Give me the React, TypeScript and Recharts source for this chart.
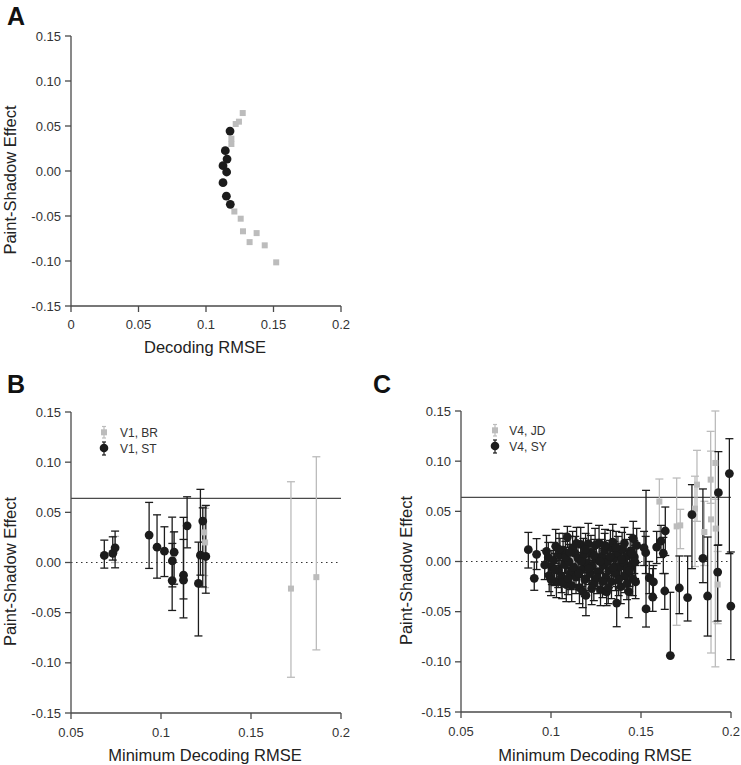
import React from 'react';
import { ScatterChart, Scatter, XAxis, YAxis, ErrorBar, ReferenceLine, Label, Legend } from 'recharts';

const FONT = '"Liberation Sans", Arial, Helvetica, sans-serif';
const BLACK = '#1c1c1c';
const GRAY = '#bcbcbc';
const AXIS = '#4a4a4a';

// ---------- tick values / labels ----------
const yTicks = [-0.15, -0.1, -0.05, 0, 0.05, 0.1, 0.15];
const yTickLabels = ['-0.15', '-0.10', '-0.05', '0.00', '0.05', '0.10', '0.15'];
const aXTicks = [0, 0.05, 0.1, 0.15, 0.2];
const aXTickLabels = ['0', '0.05', '0.1', '0.15', '0.2'];
const bcXTicks = [0.05, 0.1, 0.15, 0.2];
const bcXTickLabels = ['0.05', '0.1', '0.15', '0.2'];

// ---------- Panel A ----------
const aBlackX = [0.1178, 0.1143, 0.1156, 0.1126, 0.1153, 0.1126, 0.1151, 0.118];
const aBlackY = [0.0444, 0.0226, 0.0133, 0.0059, -0.0011, -0.013, -0.028, -0.037];
const aGrayX = [0.1272, 0.1244, 0.122, 0.1188, 0.1188, 0.121, 0.1257, 0.1274, 0.1375, 0.1323, 0.1435, 0.152];
const aGrayY = [0.0644, 0.0548, 0.0522, 0.036, 0.03, -0.045, -0.053, -0.067, -0.069, -0.079, -0.0826, -0.1015];

// ---------- Panel B ----------
const thresholdB = 0.064;
const bStX = [0.0685, 0.0732, 0.0745, 0.0934, 0.0978, 0.1019, 0.1062, 0.1063, 0.1073, 0.1125, 0.1125, 0.1145, 0.1208, 0.1219, 0.1232, 0.1249];
const bStY = [0.007, 0.009, 0.0146, 0.0273, 0.0153, 0.0113, -0.018, 0.0016, 0.0103, -0.0126, -0.0176, 0.0366, -0.0209, 0.0073, 0.0413, 0.006];
const bStLo = [-0.0056, 0.0024, -0.0053, -0.0059, -0.0156, -0.014, -0.0478, -0.0243, -0.0216, -0.0363, -0.0552, 0.0146, -0.0732, -0.0126, -0.0243, -0.0306];
const bStHi = [0.0223, 0.0256, 0.0313, 0.0599, 0.0475, 0.0356, 0.0452, 0.019, 0.0306, 0.045, 0.023, 0.0655, 0.0203, 0.0729, 0.0545, 0.0569];
const bBrX = [0.0745, 0.107, 0.124, 0.1245, 0.1722, 0.1863];
const bBrY = [0.012, 0.008, 0.03, 0.02, -0.026, -0.0146];
const bBrLo = [0.0, -0.022, -0.013, -0.025, -0.1144, -0.0871];
const bBrHi = [0.026, 0.03, 0.056, 0.054, 0.0805, 0.1054];

// ---------- Panel C ----------
const thresholdC = 0.064;
const cSyX = [
  0.0874, 0.092, 0.0907,
  0.0965, 0.0985, 0.099, 0.1005, 0.1015, 0.1026, 0.103, 0.104, 0.105, 0.1058, 0.1067, 0.1075, 0.1085, 0.1091,
  0.11, 0.111, 0.112, 0.1128, 0.1135, 0.1139, 0.115, 0.1158, 0.1165, 0.1172, 0.118, 0.1188, 0.1194, 0.12,
  0.1207, 0.1215, 0.1222, 0.123, 0.1238, 0.1245, 0.1252, 0.126, 0.1267, 0.1275, 0.1282, 0.129, 0.1298,
  0.1305, 0.1309, 0.1315, 0.1322, 0.133, 0.1336, 0.1343, 0.135, 0.1358, 0.1365, 0.1372, 0.138, 0.1388,
  0.1395, 0.1402, 0.141, 0.1418, 0.1425, 0.1432, 0.144, 0.1448, 0.1457, 0.1454, 0.1463, 0.1467, 0.147, 0.1476,
  0.0975, 0.1, 0.102, 0.1045, 0.1062, 0.108, 0.1095, 0.1105, 0.1115, 0.1142, 0.1155, 0.1168, 0.1176, 0.1192,
  0.121, 0.1226, 0.124, 0.1256, 0.1272, 0.1286, 0.13, 0.1318, 0.1328, 0.1346, 0.1362, 0.1376, 0.1392, 0.1408,
  0.1422, 0.1436, 0.145,
  0.1517, 0.1526, 0.1528, 0.1546, 0.1569, 0.1565, 0.1587, 0.1611, 0.1624, 0.1635, 0.1632, 0.1663,
  0.1713, 0.1759, 0.1783, 0.1844, 0.187, 0.193, 0.1926, 0.1991, 0.1999,
];
const cSyY = [
  0.0118, 0.0072, -0.0168,
  -0.0035, 0.004, -0.014, -0.006, 0.001, 0.0152, -0.02, -0.009, 0.006, -0.015, 0.0112, -0.003, -0.023, 0.0244,
  0.0, -0.011, 0.013, -0.006, 0.0079, -0.0155, 0.003, -0.026, 0.017, -0.008, 0.006, -0.018, -0.0337, -0.002,
  0.0178, -0.012, 0.009, -0.005, -0.022, 0.016, 0.002, -0.01, 0.0184, -0.028, 0.005, -0.004, 0.011,
  -0.016, -0.0304, 0.0, -0.009, 0.014, -0.02, 0.0194, 0.003, -0.012, -0.0414, 0.008, -0.005, -0.025,
  0.012, -0.001, -0.014, 0.005, -0.007, -0.03, 0.01, -0.003, 0.0228, -0.0171, 0.0045, -0.0005, -0.0204, 0.016,
  0.01, -0.018, -0.008, 0.012, -0.021, 0.004, -0.017, 0.009, -0.024, 0.018, -0.012, 0.0, -0.03, 0.012,
  -0.007, -0.027, 0.006, -0.016, 0.0, -0.02, 0.016, -0.026, 0.005, -0.006, 0.014, -0.018, 0.002, 0.018,
  -0.022, -0.009, 0.008,
  0.0135, 0.0088, -0.0473, -0.0164, -0.0204, -0.0354, 0.0144, 0.0204, 0.0082, 0.0304, -0.0294, -0.0938,
  -0.0264, -0.036, 0.0467, 0.0032, -0.0344, 0.0686, -0.0105, 0.0876, -0.0444,
];
const cSyLo = [
  -0.0065, -0.008, -0.0287,
  -0.018, -0.012, -0.03, -0.023, -0.017, -0.002, -0.036, -0.026, -0.011, -0.031, -0.006, -0.02, -0.04, 0.014,
  -0.017, -0.028, -0.004, -0.023, -0.009, -0.032, -0.014, -0.042, 0.0, -0.025, -0.011, -0.035, -0.054, -0.019,
  0.001, -0.029, -0.008, -0.022, -0.039, -0.001, -0.015, -0.027, 0.001, -0.044, -0.012, -0.021, -0.006,
  -0.033, -0.044, -0.017, -0.026, -0.003, -0.037, 0.002, -0.014, -0.029, -0.065, -0.009, -0.022, -0.042,
  -0.005, -0.018, -0.031, -0.012, -0.024, -0.056, -0.007, -0.02, 0.006, -0.034, -0.012, -0.017, -0.037, -0.001,
  -0.006, -0.034, -0.024, -0.004, -0.037, -0.012, -0.033, -0.007, -0.04, 0.002, -0.028, -0.016, -0.046, -0.004,
  -0.023, -0.043, -0.01, -0.032, -0.016, -0.036, 0.0, -0.042, -0.011, -0.022, -0.002, -0.034, -0.014, 0.002,
  -0.038, -0.025, -0.008,
  -0.004, -0.012, -0.0653, -0.032, -0.036, -0.0497, -0.002, 0.004, -0.012, 0.006, -0.0477, -0.0938,
  -0.052, -0.0593, -0.0071, -0.0211, -0.0743, 0.0165, -0.0593, 0.0078, -0.0978,
];
const cSyHi = [
  0.029, 0.0228, -0.0005,
  0.011, 0.019, 0.002, 0.011, 0.019, 0.032, -0.004, 0.008, 0.023, 0.001, 0.028, 0.014, -0.006, 0.035,
  0.017, 0.006, 0.03, 0.011, 0.025, 0.001, 0.02, -0.01, 0.034, 0.009, 0.023, -0.001, -0.017, 0.015,
  0.038, 0.005, 0.026, 0.012, -0.005, 0.033, 0.019, 0.007, 0.036, -0.011, 0.022, 0.013, 0.028,
  0.001, -0.015, 0.017, 0.008, 0.031, -0.003, 0.037, 0.02, 0.005, -0.025, 0.025, 0.012, -0.008,
  0.029, 0.016, 0.003, 0.022, 0.01, -0.013, 0.027, 0.014, 0.04, -0.001, 0.021, 0.016, -0.004, 0.033,
  0.026, -0.002, 0.008, 0.028, -0.005, 0.02, -0.001, 0.025, -0.008, 0.034, 0.004, 0.016, -0.014, 0.028,
  0.009, -0.011, 0.022, 0.0, 0.016, -0.004, 0.032, -0.01, 0.021, 0.01, 0.03, -0.002, 0.018, 0.034,
  -0.006, 0.007, 0.024,
  0.03, 0.025, 0.0709, 0.0, -0.004, -0.0071, 0.03, 0.036, 0.024, 0.0543, -0.012, -0.0307,
  0.0055, 0.0055, 0.0766, 0.0723, 0.0244, 0.1095, 0.0161, 0.1224, 0.0095,
];
const cJdX = [0.112, 0.125, 0.138, 0.1602, 0.1698, 0.1718, 0.18, 0.1811, 0.1852, 0.1887, 0.1889, 0.1913, 0.1915, 0.1926];
const cJdY = [0.002, -0.006, 0.004, 0.0597, 0.035, 0.036, 0.0527, 0.0766, 0.0294, 0.0816, 0.042, 0.0982, 0.0328, -0.023];
const cJdLo = [-0.014, -0.022, -0.012, 0.0171, -0.0636, 0.0128, -0.005, 0.04, -0.004, 0.058, -0.0912, -0.105, -0.06, -0.062];
const cJdHi = [0.018, 0.01, 0.02, 0.0822, 0.0832, 0.052, 0.085, 0.1108, 0.06, 0.1297, 0.11, 0.15, 0.062, 0.01];

// ---------- helpers ----------
type Row = { x: number; y: number; err?: [number, number] };
function makeRows(xs: number[], ys: number[], lo?: number[], hi?: number[]): Row[] {
  return xs.map((x, i) => ({
    x,
    y: ys[i],
    err: lo && hi ? [ys[i] - lo[i], hi[i] - ys[i]] : undefined,
  }));
}

const circleShape = (color: string, r: number) => (p: any) => (
  <circle cx={p.cx} cy={p.cy} r={r} fill={color} />
);
const squareShape = (color: string, s: number) => (p: any) => (
  <rect x={p.cx - s / 2} y={p.cy - s / 2} width={s} height={s} fill={color} />
);

const yTitle = (text: string, baselineX: number, fallbackCy: number) => (props: any) => {
  const vb = props && props.viewBox;
  const cy = vb && typeof vb.y === 'number' ? vb.y + vb.height / 2 + 9 : fallbackCy;
  return (
    <text
      x={baselineX}
      y={cy}
      transform={`rotate(-90 ${baselineX} ${cy})`}
      textAnchor="middle"
      fontSize={16.5}
      fontFamily={FONT}
      fill="#222"
    >
      {text}
    </text>
  );
};

const xTitle = (text: string, baselineY: number, fallbackCx: number) => (props: any) => {
  const vb = props && props.viewBox;
  const cx = vb && typeof vb.x === 'number' ? vb.x + vb.width / 2 - 1 : fallbackCx;
  return (
    <text x={cx} y={baselineY} textAnchor="middle" fontSize={16.5} fontFamily={FONT} fill="#222">
      {text}
    </text>
  );
};

const legendContent = (labels: [string, string], textX: number) => () => (
  <svg width={90} height={38} style={{ display: 'block', overflow: 'visible' }}>
    <g stroke={GRAY} strokeWidth={1.2}>
      <line x1={8} y1={4.5} x2={8} y2={16} />
      <line x1={6} y1={4.5} x2={10} y2={4.5} />
      <line x1={6} y1={16} x2={10} y2={16} />
    </g>
    <rect x={5} y={7.3} width={6} height={6} fill={GRAY} />
    <g stroke={BLACK} strokeWidth={1.2}>
      <line x1={8} y1={20} x2={8} y2={33} />
      <line x1={6} y1={20} x2={10} y2={20} />
      <line x1={6} y1={33} x2={10} y2={33} />
    </g>
    <circle cx={8} cy={26} r={4.3} fill={BLACK} />
    <text x={textX} y={14.5} fontSize={12} fontFamily={FONT} fill="#333">{labels[0]}</text>
    <text x={textX} y={30.5} fontSize={12} fontFamily={FONT} fill="#333">{labels[1]}</text>
  </svg>
);

const tickStyle = { fill: '#333', fontSize: 13, fontFamily: FONT };
const axisLineStyle = { stroke: AXIS, strokeWidth: 1.3 };

const letterStyle: React.CSSProperties = {
  position: 'absolute',
  fontFamily: FONT,
  fontWeight: 'bold',
  fontSize: 25,
  lineHeight: '25px',
  color: '#111',
};

export default function App() {
  const aBlack = makeRows(aBlackX, aBlackY);
  const aGray = makeRows(aGrayX, aGrayY);
  const bSt = makeRows(bStX, bStY, bStLo, bStHi);
  const bBr = makeRows(bBrX, bBrY, bBrLo, bBrHi);
  const cSy = makeRows(cSyX, cSyY, cSyLo, cSyHi);
  const cJd = makeRows(cJdX, cJdY, cJdLo, cJdHi);

  return (
    <div style={{ position: 'absolute', left: 0, top: 0, width: 741, height: 765, background: '#fff', overflow: 'hidden' }}>
      <div style={{ ...letterStyle, left: 7, top: 4 }}>A</div>
      <div style={{ ...letterStyle, left: 7, top: 372 }}>B</div>
      <div style={{ ...letterStyle, left: 373, top: 372 }}>C</div>

      {/* Panel A */}
      <div style={{ position: 'absolute', left: 0, top: 0 }}>
        <ScatterChart width={370} height={380} margin={{ top: 36, right: 29, bottom: 0, left: 0 }}>
          <XAxis
            type="number"
            dataKey="x"
            domain={[0, 0.2]}
            ticks={aXTicks}
            interval={0}
            tickFormatter={(v: number, i: number) => aXTickLabels[i]}
            height={74}
            tickSize={6}
            tickMargin={8}
            axisLine={axisLineStyle}
            tickLine={axisLineStyle}
            tick={tickStyle}
          >
            <Label content={xTitle('Decoding RMSE', 352.5, 205)} />
          </XAxis>
          <YAxis
            type="number"
            dataKey="y"
            domain={[-0.15, 0.15]}
            ticks={yTicks}
            interval={0}
            tickFormatter={(v: number, i: number) => yTickLabels[i]}
            width={71}
            tickSize={6}
            tickMargin={4}
            axisLine={axisLineStyle}
            tickLine={axisLineStyle}
            tick={tickStyle}
          >
            <Label content={yTitle('Paint-Shadow Effect', 16, 180)} />
          </YAxis>
          <Scatter data={aGray} dataKey="y" shape={squareShape(GRAY, 6)} isAnimationActive={false} />
          <Scatter data={aBlack} dataKey="y" shape={circleShape(BLACK, 4.4)} isAnimationActive={false} />
        </ScatterChart>
      </div>

      {/* Panel B */}
      <div style={{ position: 'absolute', left: 0, top: 380 }}>
        <ScatterChart width={370} height={385} margin={{ top: 32, right: 29, bottom: 0, left: 0 }}>
          <XAxis
            type="number"
            dataKey="x"
            domain={[0.05, 0.2]}
            ticks={bcXTicks}
            interval={0}
            tickFormatter={(v: number, i: number) => bcXTickLabels[i]}
            height={52}
            tickSize={6}
            tickMargin={9}
            axisLine={axisLineStyle}
            tickLine={axisLineStyle}
            tick={tickStyle}
          >
            <Label content={xTitle('Minimum Decoding RMSE', 381, 205)} />
          </XAxis>
          <YAxis
            type="number"
            dataKey="y"
            domain={[-0.15, 0.15]}
            ticks={yTicks}
            interval={0}
            tickFormatter={(v: number, i: number) => yTickLabels[i]}
            width={71}
            tickSize={6}
            tickMargin={4}
            axisLine={axisLineStyle}
            tickLine={axisLineStyle}
            tick={tickStyle}
          >
            <Label content={yTitle('Paint-Shadow Effect', 16, 191)} />
          </YAxis>
          <ReferenceLine y={0} stroke="#333" strokeWidth={1.2} strokeDasharray="1.5 3.5" />
          <ReferenceLine y={thresholdB} stroke={AXIS} strokeWidth={1.3} />
          <Scatter data={bBr} dataKey="y" shape={squareShape(GRAY, 6)} isAnimationActive={false}>
            <ErrorBar dataKey="err" direction="y" width={4} stroke={GRAY} strokeWidth={1.3} isAnimationActive={false} />
          </Scatter>
          <Scatter data={bSt} dataKey="y" shape={circleShape(BLACK, 4.4)} isAnimationActive={false}>
            <ErrorBar dataKey="err" direction="y" width={4} stroke={BLACK} strokeWidth={1.3} isAnimationActive={false} />
          </Scatter>
          <Legend
            layout="horizontal"
            verticalAlign="middle"
            align="center"
            wrapperStyle={{ left: 96, top: 42, width: 90, height: 38 }}
            content={legendContent(['V1, BR', 'V1, ST'], 24)}
          />
        </ScatterChart>
      </div>

      {/* Panel C */}
      <div style={{ position: 'absolute', left: 370, top: 380 }}>
        <ScatterChart width={371} height={385} margin={{ top: 31, right: 10, bottom: 0, left: 0 }}>
          <XAxis
            type="number"
            dataKey="x"
            domain={[0.05, 0.2]}
            ticks={bcXTicks}
            interval={0}
            tickFormatter={(v: number, i: number) => bcXTickLabels[i]}
            height={53}
            tickSize={6}
            tickMargin={9}
            axisLine={axisLineStyle}
            tickLine={axisLineStyle}
            tick={tickStyle}
          >
            <Label content={xTitle('Minimum Decoding RMSE', 381, 226)} />
          </XAxis>
          <YAxis
            type="number"
            dataKey="y"
            domain={[-0.15, 0.15]}
            ticks={yTicks}
            interval={0}
            tickFormatter={(v: number, i: number) => yTickLabels[i]}
            width={91}
            tickSize={6}
            tickMargin={4}
            axisLine={axisLineStyle}
            tickLine={axisLineStyle}
            tick={tickStyle}
          >
            <Label content={yTitle('Paint-Shadow Effect', 41.7, 190)} />
          </YAxis>
          <ReferenceLine y={0} stroke="#333" strokeWidth={1.2} strokeDasharray="1.5 3.5" />
          <ReferenceLine y={thresholdC} stroke={AXIS} strokeWidth={1.3} />
          <Scatter data={cJd} dataKey="y" shape={squareShape(GRAY, 6)} isAnimationActive={false}>
            <ErrorBar dataKey="err" direction="y" width={4} stroke={GRAY} strokeWidth={1.3} isAnimationActive={false} />
          </Scatter>
          <Scatter data={cSy} dataKey="y" shape={circleShape(BLACK, 4.4)} isAnimationActive={false}>
            <ErrorBar dataKey="err" direction="y" width={4} stroke={BLACK} strokeWidth={1.3} isAnimationActive={false} />
          </Scatter>
          <Legend
            layout="horizontal"
            verticalAlign="middle"
            align="center"
            wrapperStyle={{ left: 117, top: 40, width: 90, height: 38 }}
            content={legendContent(['V4, JD', 'V4, SY'], 22.3)}
          />
        </ScatterChart>
      </div>
    </div>
  );
}
